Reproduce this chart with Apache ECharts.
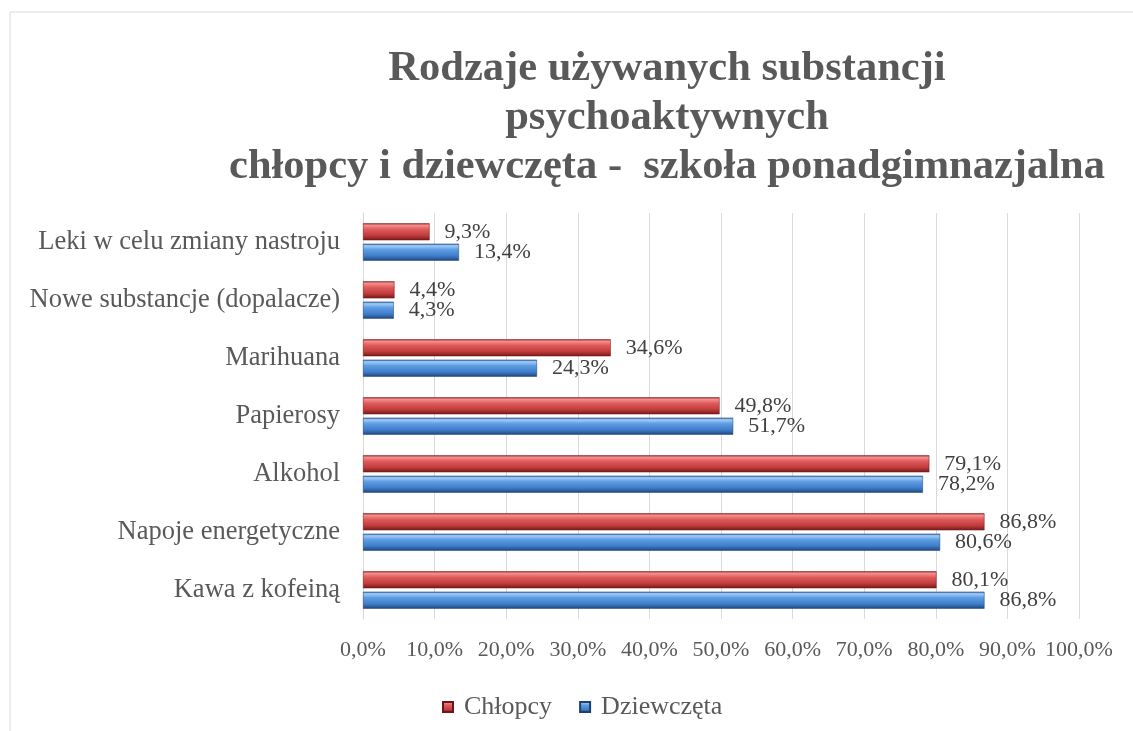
<!DOCTYPE html>
<html>
<head>
<meta charset="utf-8">
<script src="https://cdn.jsdelivr.net/npm/echarts@6/dist/echarts.min.js"></script>
<style>
  html, body { margin: 0; padding: 0; background: #fff; }
  #chart { width: 1133px; height: 731px; }
</style>
</head>
<body>
<div id="chart"></div>
<script>
// kategorie od dołu do góry (oś kategorii rośnie w górę)
const categories = [
    'Kawa z kofeiną',
    'Napoje energetyczne',
    'Alkohol',
    'Papierosy',
    'Marihuana',
    'Nowe substancje (dopalacze)',
    'Leki w celu zmiany nastroju'
];
const chlopcy = [80.1, 86.8, 79.1, 49.8, 34.6, 4.4, 9.3];
const dziewczeta = [86.8, 80.6, 78.2, 51.7, 24.3, 4.3, 13.4];

const serif = '"Liberation Serif", "DejaVu Serif", serif';
const pct = v => v.toFixed(1).replace('.', ',') + '%';

const redFill = new echarts.graphic.LinearGradient(0, 0, 0, 1, [
    { offset: 0, color: '#a82c2c' },
    { offset: 0.12, color: '#f49090' },
    { offset: 0.35, color: '#e05c5c' },
    { offset: 0.72, color: '#c03b3b' },
    { offset: 1, color: '#761818' }
]);
const blueFill = new echarts.graphic.LinearGradient(0, 0, 0, 1, [
    { offset: 0, color: '#2c62ad' },
    { offset: 0.12, color: '#a2ccf6' },
    { offset: 0.35, color: '#5d9de2' },
    { offset: 0.72, color: '#3f7dc9' },
    { offset: 1, color: '#1d467c' }
]);

const chart = echarts.init(document.getElementById('chart'));

const barLabel = {
    show: true,
    position: 'right',
    distance: 15,
    fontFamily: serif,
    fontSize: 22,
    color: '#404040',
    formatter: p => pct(p.value)
};

chart.setOption({
    backgroundColor: '#fff',
    animation: false,
    graphic: [{
        type: 'rect',
        shape: { x: 10, y: 12, width: 1140, height: 740 },
        style: { fill: 'none', stroke: '#d9d9d9', lineWidth: 1 },
        silent: true
    }],
    title: {
        text: 'Rodzaje używanych substancji\npsychoaktywnych\nchłopcy i dziewczęta -  szkoła ponadgimnazjalna',
        left: 662,
        top: 40,
        textAlign: 'center',
        textStyle: {
            fontFamily: serif,
            fontWeight: 'bold',
            fontSize: 42.5,
            lineHeight: 49,
            color: '#595959'
        }
    },
    legend: {
        data: ['Chłopcy', 'Dziewczęta'],
        left: 437,
        top: 689,
        icon: 'rect',
        itemWidth: 10,
        itemHeight: 10,
        itemGap: 27,
        textStyle: { fontFamily: serif, fontSize: 26, color: '#595959', padding: [0, 0, 0, 6] }
    },
    grid: { left: 363, right: 54, top: 213, bottom: 112, containLabel: false },
    xAxis: {
        type: 'value',
        min: 0,
        max: 100,
        interval: 10,
        axisLine: { show: false },
        axisTick: { show: false },
        splitLine: { lineStyle: { color: '#d9d9d9', width: 1 } },
        axisLabel: {
            margin: 20,
            fontFamily: serif,
            fontSize: 22,
            color: '#595959',
            formatter: v => pct(v)
        }
    },
    yAxis: {
        type: 'category',
        data: categories,
        axisLine: { show: true, lineStyle: { color: '#d9d9d9' } },
        axisTick: { show: false },
        axisLabel: {
            margin: 23,
            fontFamily: serif,
            fontSize: 26.5,
            color: '#595959'
        }
    },
    series: [
        {
            name: 'Chłopcy',
            type: 'bar',
            data: chlopcy,
            barWidth: 17,
            barGap: '20%',
            itemStyle: { color: redFill, borderColor: '#6e1616', borderWidth: 0.5 },
            label: barLabel
        },
        {
            name: 'Dziewczęta',
            type: 'bar',
            data: dziewczeta,
            barWidth: 17,
            barGap: '20%',
            itemStyle: { color: blueFill, borderColor: '#1d3f6e', borderWidth: 0.5 },
            label: barLabel
        }
    ]
});
</script>
</body>
</html>
